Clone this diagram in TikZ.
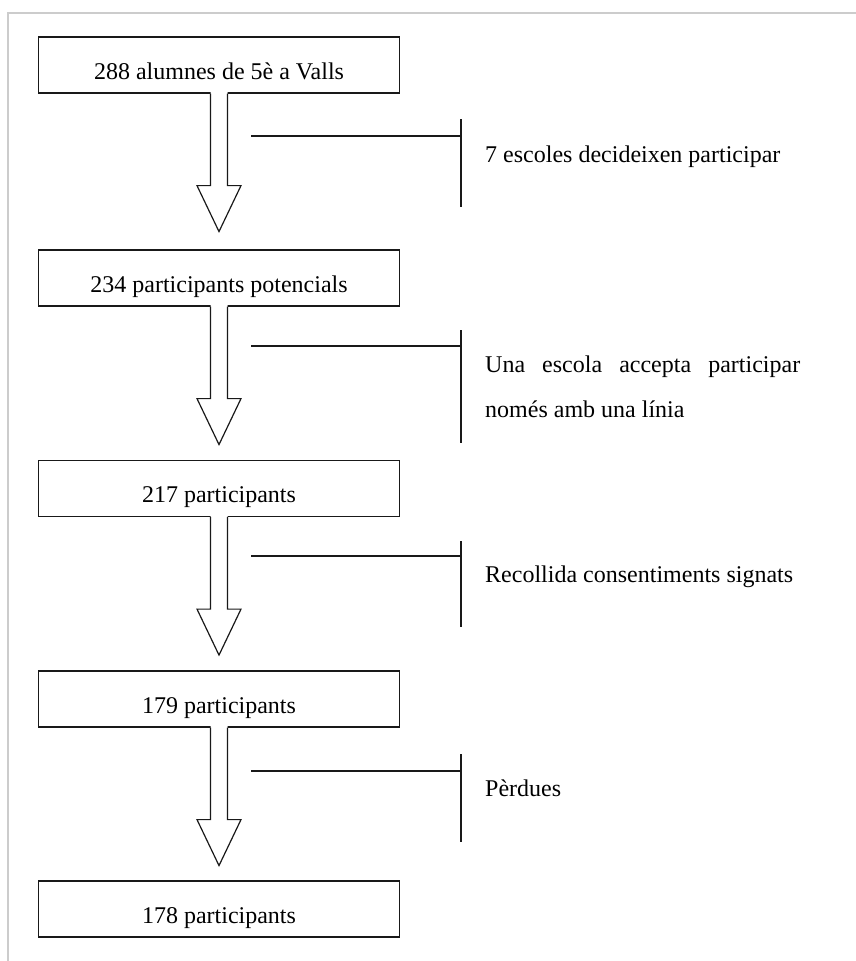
\documentclass[tikz,border=0pt]{standalone}
\usepackage{fontspec}
\setmainfont{Liberation Serif}
\usetikzlibrary{calc}

\tikzset{
  framecol/.style={draw=black!20, line width=1.5pt},
  flowbox/.style={draw=black!90, line width=1.2pt, minimum width=361pt,
    minimum height=56pt, inner sep=0pt},
  boxtext/.style={anchor=base, inner sep=0pt, font=\fontsize{24}{28}\selectfont},
  sidetext/.style={anchor=base west, inner sep=0pt, font=\fontsize{24}{28}\selectfont},
  bracket/.style={draw=black!90, line width=1.2pt},
  arrowline/.style={draw=black!90, line width=1.2pt, line join=miter},
  downarrow/.pic={
    \fill[white] (-8.5,-1.5) -- (-8.5,92) -- (-22,92) -- (0,138) -- (22,92)
      -- (8.5,92) -- (8.5,-1.5) -- cycle;
    \draw[arrowline] (-8.5,0) -- (-8.5,92) -- (-22,92) -- (0,138) -- (22,92)
      -- (8.5,92) -- (8.5,0);
  }
}

\begin{document}
\begin{tikzpicture}[x=1pt, y=-1pt]
\useasboundingbox (0,0) rectangle (856,961);

% page frame (top and left edges)
\draw[framecol] (8,961) -- (8,13) -- (856,13);

% flow boxes
\node[flowbox] (b1) at (219,65)  {};
\node[flowbox] (b2) at (219,278) {};
\node[flowbox] (b3) at (219,488.5) {};
\node[flowbox] (b4) at (219,699) {};
\node[flowbox] (b5) at (219,909) {};

% box labels
\node[boxtext] (t1) at ($(b1.north)+(0,43)$) {288 alumnes de 5è a Valls};
\node[boxtext] (t2) at ($(b2.north)+(0,43)$) {234 participants potencials};
\node[boxtext] (t3) at ($(b3.north)+(0,43)$) {217 participants};
\node[boxtext] (t4) at ($(b4.north)+(0,43)$) {179 participants};
\node[boxtext] (t5) at ($(b5.north)+(0,43)$) {178 participants};

% block arrows between boxes
\pic at (b1.south) {downarrow};
\pic at (b2.south) {downarrow};
\pic at (b3.south) {downarrow};
\pic at (b4.south) {downarrow};

% side notes (the two-line note is placed by its last baseline)
\node[sidetext] (n1) at (485,162) {7 escoles decideixen participar};
\node[sidetext, align=left] (n2) at (485,417)
  {\makebox[315pt][s]{Una escola accepta participar}\\[17pt]només amb una línia};
\node[sidetext] (n3) at (485,582) {Recollida consentiments signats};
\node[sidetext] (n4) at (485,796) {Pèrdues};

% brackets linking the arrows to the notes
\coordinate (h1) at (461,136);
\coordinate (h2) at (461,346);
\coordinate (h3) at (461,556);
\coordinate (h4) at (461,771);
\draw[bracket] (251,136) -- (h1);
\draw[bracket] (461,119) -- (461,207);
\draw[bracket] (251,346) -- (h2);
\draw[bracket] (461,330) -- (461,443);
\draw[bracket] (251,556) -- (h3);
\draw[bracket] (461,541) -- (461,627);
\draw[bracket] (251,771) -- (h4);
\draw[bracket] (461,754) -- (461,842);
\end{tikzpicture}
\end{document}
